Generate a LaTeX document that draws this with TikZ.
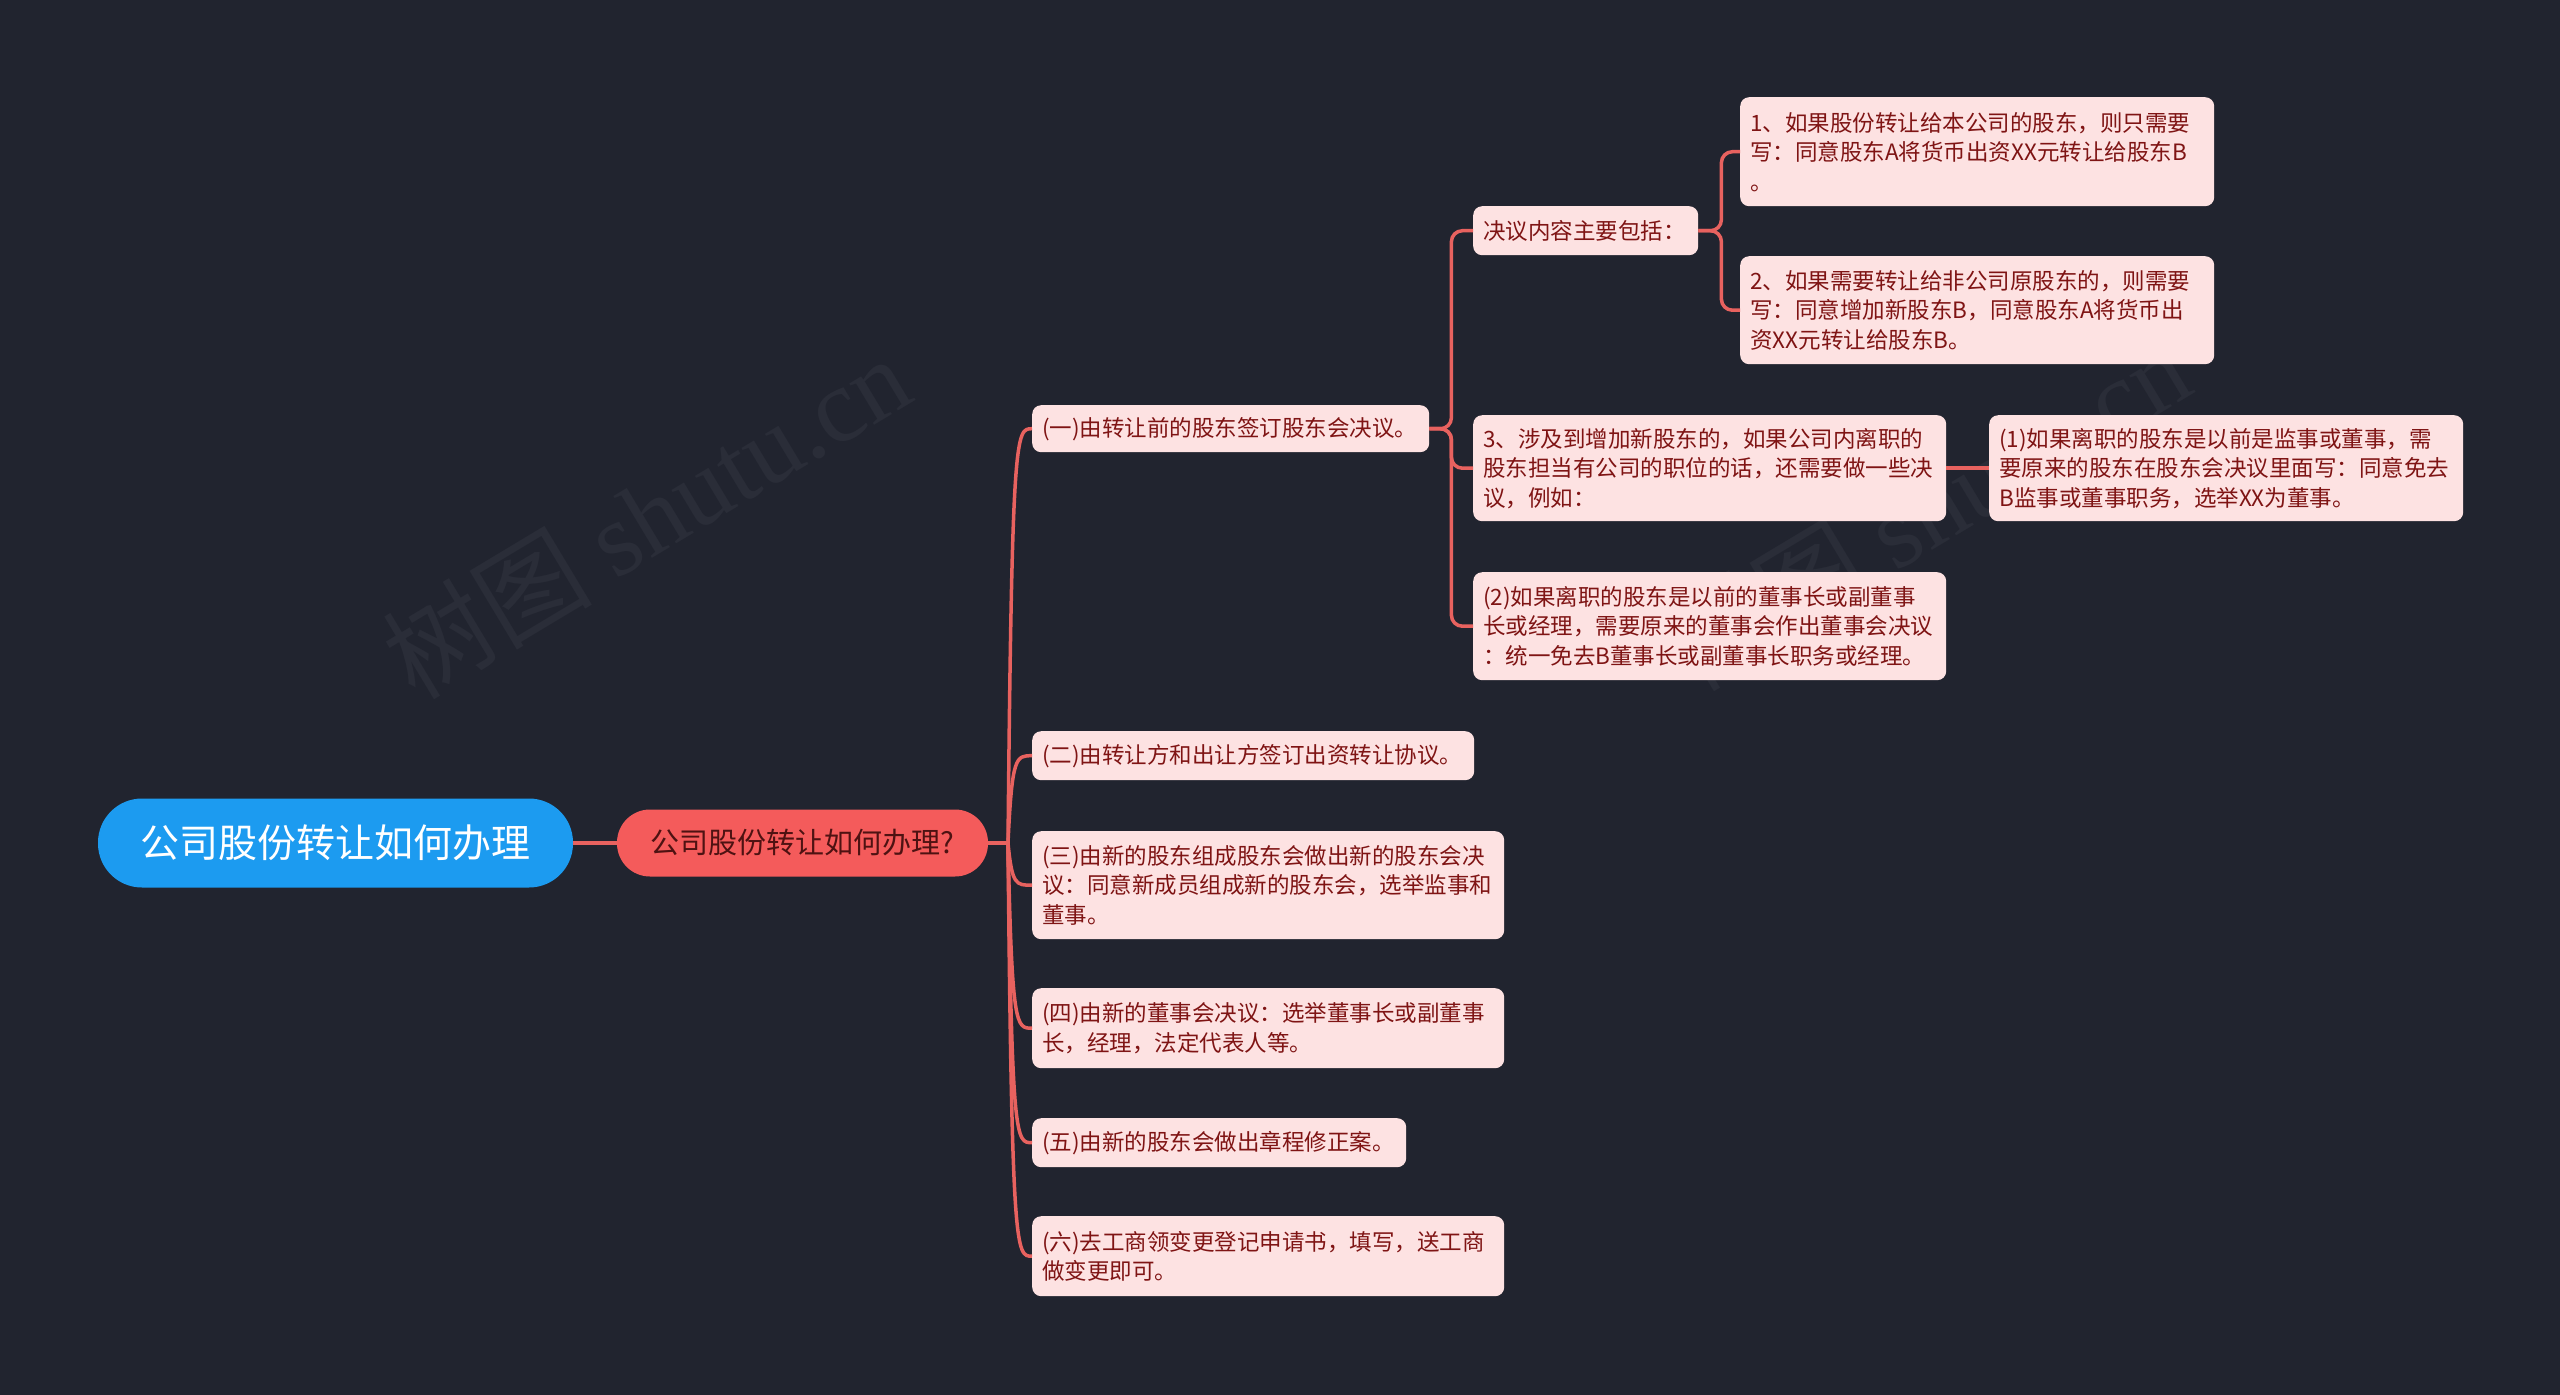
\documentclass[tikz,border=0pt]{standalone}
\usepackage{fontspec}
\setmainfont{Noto Sans CJK SC}
\newfontfamily\wmserif{Liberation Serif}
\usetikzlibrary{calc}
\definecolor{bgc}{HTML}{21242F}
\definecolor{rootblue}{HTML}{1C9BF0}
\definecolor{lonered}{HTML}{F45B5B}
\definecolor{lonetext}{HTML}{4E1212}
\definecolor{leaffill}{HTML}{FDE2E2}
\definecolor{leaftext}{HTML}{7F1414}
\definecolor{linec}{HTML}{E8625F}
\definecolor{wmc}{HTML}{2A2D38}
\tikzset{
  rootbox/.style={fill=rootblue, text=white, rounded corners=44pt, minimum width=475pt, minimum height=89pt, inner sep=0pt, font=\fontsize{39pt}{44pt}\selectfont},
  lonebox/.style={fill=lonered, text=lonetext, rounded corners=33pt, minimum width=371pt, minimum height=67pt, inner sep=0pt, font=\fontsize{29pt}{34pt}\selectfont},
  leaf/.style={fill=leaffill, text=leaftext, rounded corners=9pt, anchor=north west, align=left, inner xsep=10pt, inner ysep=3pt, font=\fontsize{22.5pt}{29.5pt}\selectfont},
  conn/.style={draw=linec, line width=3.5pt},
  elbow/.style={conn, rounded corners=11pt},
  wm/.style={text=wmc, rotate=31, font=\fontsize{105pt}{110pt}\selectfont}
}
\begin{document}
\begin{tikzpicture}[x=1pt,y=-1pt]
\fill[bgc] (0,0) rectangle (2560,1395);
\useasboundingbox (0,0) rectangle (2560,1395);
\node[wm] (wm1) at (646,516) {树图 {\wmserif shutu.cn}};
\node[wm] (wm2) at (1926,508) {树图 {\wmserif shutu.cn}};

% root and level 1
\node[rootbox] (root) at (335.5,843) {公司股份转让如何办理};
\node[lonebox] (l1) at (802.5,843) {公司股份转让如何办理?};

% level 2
\node[leaf, text width=377pt, minimum height=47pt] (a1) at (1032,405) {(一)由转让前的股东签订股东会决议。};
\node[leaf, text width=422pt, minimum height=49pt] (a2) at (1032,731) {(二)由转让方和出让方签订出资转让协议。};
\node[leaf, text width=452pt, minimum height=108pt] (a3) at (1032,831) {(三)由新的股东组成股东会做出新的股东会决\\议：同意新成员组成新的股东会，选举监事和\\董事。};
\node[leaf, text width=452pt, minimum height=80pt] (a4) at (1032,988) {(四)由新的董事会决议：选举董事长或副董事\\长，经理，法定代表人等。};
\node[leaf, text width=354pt, minimum height=49pt] (a5) at (1032,1118) {(五)由新的股东会做出章程修正案。};
\node[leaf, text width=452pt, minimum height=80pt] (a6) at (1032,1216) {(六)去工商领变更登记申请书，填写，送工商\\做变更即可。};

% level 3
\node[leaf, text width=205pt, minimum height=49pt] (b1) at (1473,206) {决议内容主要包括：};
\node[leaf, text width=453pt, minimum height=106pt] (b2) at (1473,415) {3、涉及到增加新股东的，如果公司内离职的\\股东担当有公司的职位的话，还需要做一些决\\议，例如：};
\node[leaf, text width=453pt, minimum height=108pt] (b3) at (1473,572) {(2)如果离职的股东是以前的董事长或副董事\\长或经理，需要原来的董事会作出董事会决议\\：统一免去B董事长或副董事长职务或经理。};

% level 4
\node[leaf, text width=454pt, minimum height=109pt] (c1) at (1740,97) {1、如果股份转让给本公司的股东，则只需要\\写：同意股东A将货币出资XX元转让给股东B\\。};
\node[leaf, text width=454pt, minimum height=108pt] (c2) at (1740,256) {2、如果需要转让给非公司原股东的，则需要\\写：同意增加新股东B，同意股东A将货币出\\资XX元转让给股东B。};
\node[leaf, text width=454pt, minimum height=106pt] (c3) at (1989,415) {(1)如果离职的股东是以前是监事或董事，需\\要原来的股东在股东会决议里面写：同意免去\\B监事或董事职务，选举XX为董事。};

% connectors
\draw[conn] (root.east) -- (l1.west);
\coordinate (j1) at (1008,843);
\draw[conn] (l1.east) -- (j1);
\foreach \c in {a1,a2,a3,a4,a5,a6}{
  \draw[conn] (j1) .. controls ($(j1 |- \c.west)+(4,0)$) and ($(j1 |- \c.west)+(8,0)$) .. (\c.west);
}
\foreach \c in {b1,b2,b3}{
  \draw[elbow] (a1.east) -- ++(22,0) |- (\c.west);
}
\foreach \c in {c1,c2}{
  \draw[elbow] (b1.east) -- ++(23,0) |- (\c.west);
}
\draw[conn] (b2.east) -- (c3.west);
\end{tikzpicture}
\end{document}
